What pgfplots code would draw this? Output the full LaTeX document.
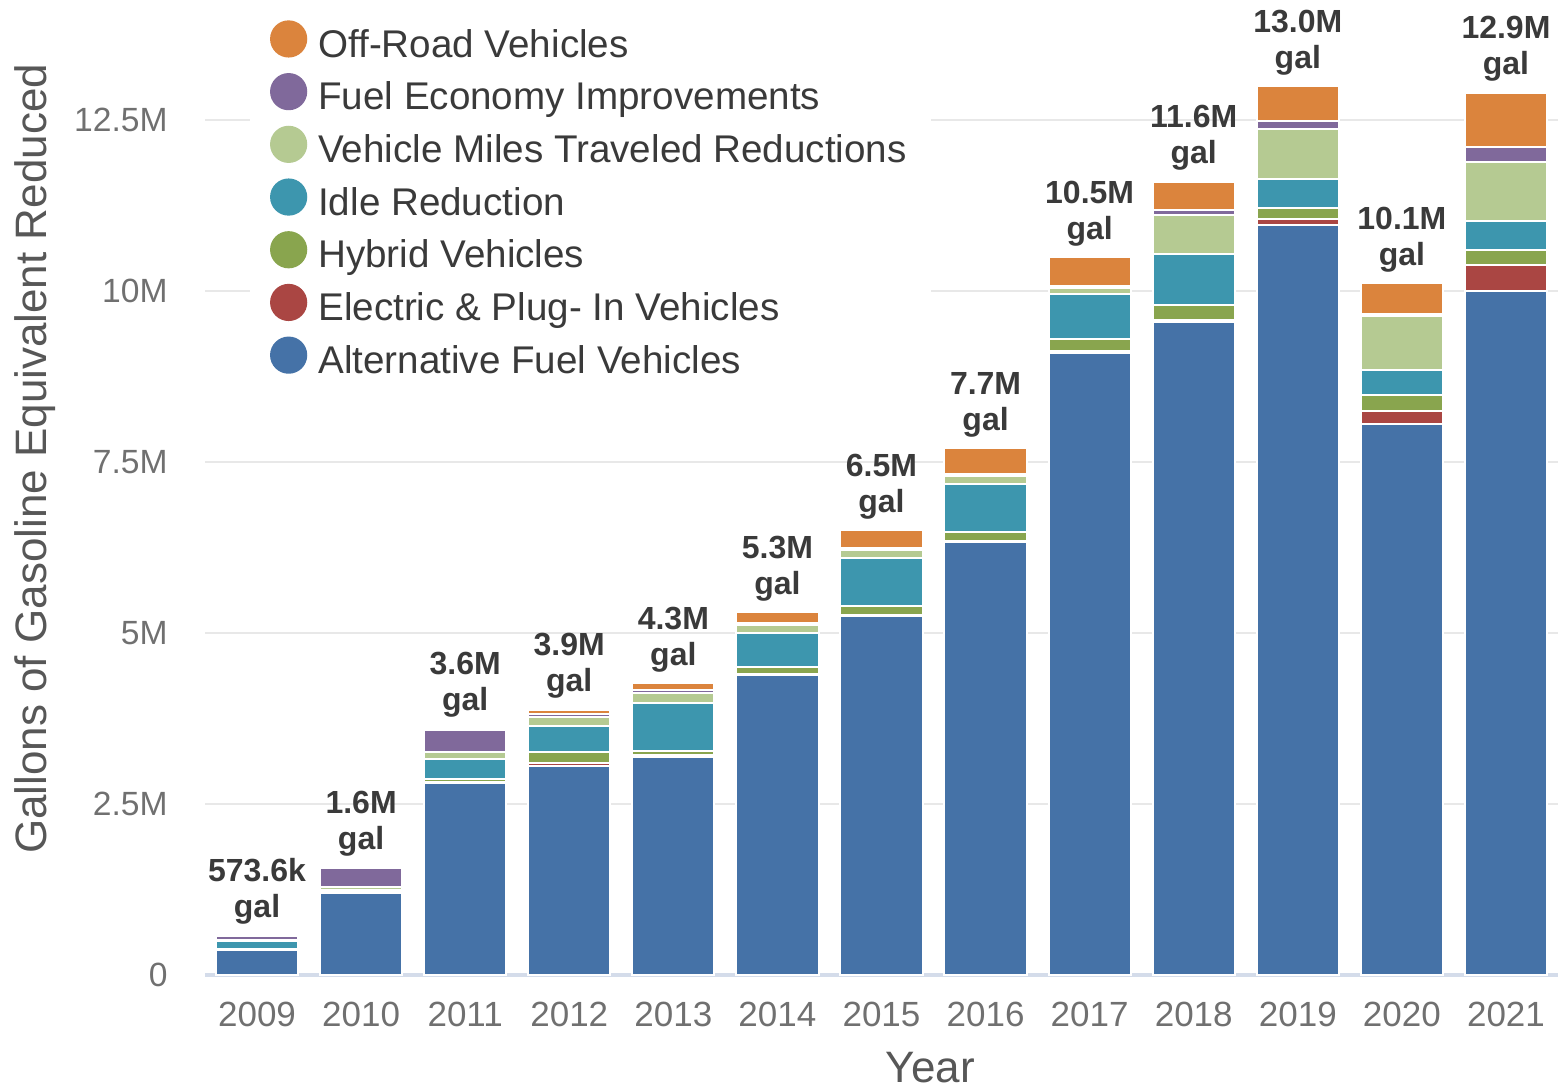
\documentclass[border=0pt]{standalone}
\usepackage{pgfplots}
\usepackage{pgfplotstable}
\usepackage{fontspec}
\setmainfont{Liberation Sans}
\pgfplotsset{compat=1.18}
\definecolor{cafv}{HTML}{4572A7}
\definecolor{celec}{HTML}{AA4643}
\definecolor{chyb}{HTML}{89A54E}
\definecolor{cidle}{HTML}{3D96AE}
\definecolor{cvmt}{HTML}{B5CA92}
\definecolor{cfuel}{HTML}{80699B}
\definecolor{coff}{HTML}{DB843D}
\definecolor{cgrid}{HTML}{E8E8E8}
\definecolor{caxis}{HTML}{D4DCEA}
\definecolor{ctick}{HTML}{707070}
\definecolor{clabel}{HTML}{3A3A3A}

\pgfplotstableread{
x afv elec hyb idle vmt fuel off lab
0 0.36 0.005 0.01 0.12 0.01 0.06 0.0086 573.6k
1 1.20 0.01 0.02 0.02 0.03 0.28 0.02 1.6M
2 2.80 0.02 0.04 0.30 0.10 0.32 0.02 3.6M
3 3.06 0.04 0.16 0.38 0.13 0.04 0.07 3.9M
4 3.19 0.02 0.07 0.70 0.15 0.04 0.10 4.3M
5 4.38 0.02 0.10 0.50 0.12 0.03 0.15 5.3M
6 5.25 0.02 0.12 0.70 0.12 0.04 0.25 6.5M
7 6.33 0.02 0.13 0.70 0.12 0.03 0.37 7.7M
8 9.10 0.02 0.18 0.65 0.10 0.03 0.42 10.5M
9 9.55 0.02 0.22 0.75 0.57 0.07 0.42 11.6M
10 10.97 0.08 0.16 0.43 0.73 0.12 0.50 13.0M
11 8.05 0.20 0.23 0.36 0.80 0.02 0.46 10.1M
12 10.00 0.38 0.22 0.42 0.86 0.22 0.80 12.9M
}\data

\begin{document}
\begin{tikzpicture}
\begin{axis}[
  at={(102.5pt,57pt)}, anchor=south west,
  scale only axis, width=676.5pt, height=478.8pt,
  xmin=-0.5, xmax=12.5, ymin=0, ymax=14,
  ybar stacked, bar width=0.79,
  clip=false,
  axis line style={draw=none},
  major tick length=0pt,
  xtick={0,...,12},
  xticklabels={2009,2010,2011,2012,2013,2014,2015,2016,2017,2018,2019,2020,2021},
  ytick={2.5,5,7.5,10,12.5},
  yticklabels={2.5M,5M,7.5M,10M,12.5M},
  extra y ticks={0}, extra y tick labels={0},
  extra y tick style={grid style={caxis, line width=1.6pt}},
  ymajorgrids, grid style={cgrid, line width=1.3pt},
  xticklabel style={font=\fontsize{17.5}{20}\selectfont, text=ctick, anchor=north, inner sep=0pt, yshift=-13.5pt},
  yticklabel style={font=\fontsize{16.8}{20}\selectfont, text=ctick, anchor=east, inner sep=0pt, xshift=-18.5pt},
  every axis y label/.style={at={(axis description cs:-0.1256,0.539)}, anchor=center, rotate=90, font=\fontsize{22}{26}\selectfont, text=clabel!85},
  every axis x label/.style={at={(axis description cs:0.536,-0.097)}, anchor=center, font=\fontsize{22}{26}\selectfont, text=clabel!85},
  ylabel={Gallons of Gasoline Equivalent Reduced},
  xlabel={Year},
  legend image code/.code={\fill[draw=none] (9.3pt,0.36em) circle (9.3pt);},
  reverse legend,
  legend cell align=left,
  legend style={at={(axis description cs:0.033,1.0084)}, anchor=north west, fill=white, draw=none,
    font=\fontsize{19.3}{23}\selectfont, text=clabel, row sep=2.95pt, inner xsep=10pt, inner ysep=5.3pt,
    /tikz/every odd column/.append style={column sep=3.5pt},
    nodes={text height=16pt, text depth=5pt, inner ysep=0pt}},
]
\addplot[fill=cafv, draw=white, line width=1pt] table[x=x,y=afv]{\data};
\addlegendentry{Alternative Fuel Vehicles}
\addplot[fill=celec, draw=white, line width=1pt] table[x=x,y=elec]{\data};
\addlegendentry{Electric \& Plug- In Vehicles}
\addplot[fill=chyb, draw=white, line width=1pt] table[x=x,y=hyb]{\data};
\addlegendentry{Hybrid Vehicles}
\addplot[fill=cidle, draw=white, line width=1pt] table[x=x,y=idle]{\data};
\addlegendentry{Idle Reduction}
\addplot[fill=cvmt, draw=white, line width=1pt] table[x=x,y=vmt]{\data};
\addlegendentry{Vehicle Miles Traveled Reductions}
\addplot[fill=cfuel, draw=white, line width=1pt] table[x=x,y=fuel]{\data};
\addlegendentry{Fuel Economy Improvements}
\addplot[fill=coff, draw=white, line width=1pt,
  point meta=explicit symbolic,
  visualization depends on={\thisrow{off} \as \offv},
  nodes near coords={\pgfplotspointmeta\\gal},
  nodes near coords style={anchor=south, align=center, inner sep=0pt, yshift={5pt+17.1pt*\offv},
    font=\fontsize{16}{18}\selectfont\bfseries, text=clabel}]
  table[x=x,y=off,meta=lab]{\data};
\addlegendentry{Off-Road Vehicles}
\end{axis}
\pgfresetboundingbox
\useasboundingbox (0,0) rectangle (779pt,544.5pt);
\end{tikzpicture}
\end{document}
